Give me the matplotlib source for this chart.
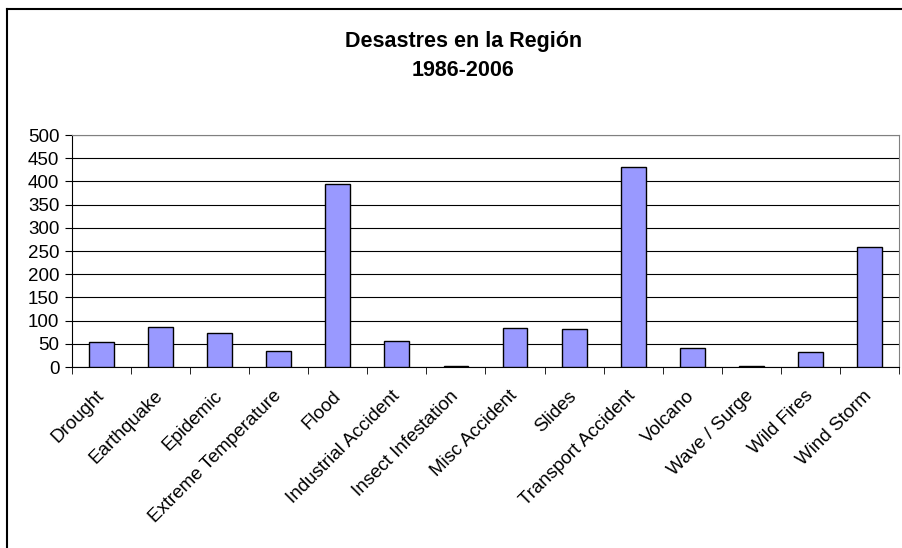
import numpy as np
import matplotlib
matplotlib.use('Agg')
import matplotlib.pyplot as plt
from matplotlib.lines import Line2D

categories = ['Drought', 'Earthquake', 'Epidemic', 'Extreme Temperature', 'Flood',
              'Industrial Accident', 'Insect Infestation', 'Misc Accident', 'Slides',
              'Transport Accident', 'Volcano', 'Wave / Surge', 'Wild Fires', 'Wind Storm']
values = [54, 87, 74, 35, 394, 57, 3, 84, 81, 430, 42, 2, 32, 258]
yticks = [0, 50, 100, 150, 200, 250, 300, 350, 400, 450, 500]

plt.rcParams['font.family'] = ['Liberation Sans', 'DejaVu Sans']

fig = plt.figure(figsize=(9.03, 5.48), dpi=100)
ax = fig.add_axes([72 / 903, 1 - 367 / 548, 827 / 903, 232 / 548])

x = np.arange(len(categories))
ax.bar(x, values, width=0.42, color='#9999FF', edgecolor='black', linewidth=1, zorder=3)

ax.set_xlim(-0.5, len(categories) - 0.5)
ax.set_ylim(0, 500)
ax.set_yticks(yticks)
ax.set_yticklabels([str(v) for v in yticks], fontsize=13.5)
ax.yaxis.grid(True, color='black', linewidth=0.8, zorder=0)

ax.set_xticks(x)
ax.set_xticklabels(categories, rotation=45, ha='right', va='center', fontsize=13.5,
                   rotation_mode='anchor')
ax.tick_params(axis='x', length=0, pad=19)
ax.set_xticks(np.arange(-0.5, len(categories)), minor=True)
ax.tick_params(axis='x', which='minor', length=5, direction='out', color='black')
ax.tick_params(axis='y', length=5, direction='out', color='black', pad=4)

for side in ['top', 'right']:
    ax.spines[side].set_color('#808080')
for side in ['left', 'bottom']:
    ax.spines[side].set_color('black')

fig.text(464 / 903, 1 - 42 / 548, 'Desastres en la Región', ha='center', va='center',
         fontsize=15.5, fontweight='bold')
fig.text(463 / 903, 1 - 71 / 548, '1986-2006', ha='center', va='center',
         fontsize=15.5, fontweight='bold')

# outer chart border (left and top only visible)
fig.add_artist(Line2D([7 / 903, 7 / 903], [0, 1 - 9 / 548], color='black', linewidth=1.5,
                      transform=fig.transFigure))
fig.add_artist(Line2D([7 / 903, 1], [1 - 9 / 548, 1 - 9 / 548], color='black', linewidth=1.5,
                      transform=fig.transFigure))

fig.savefig('out.png', dpi=100)
